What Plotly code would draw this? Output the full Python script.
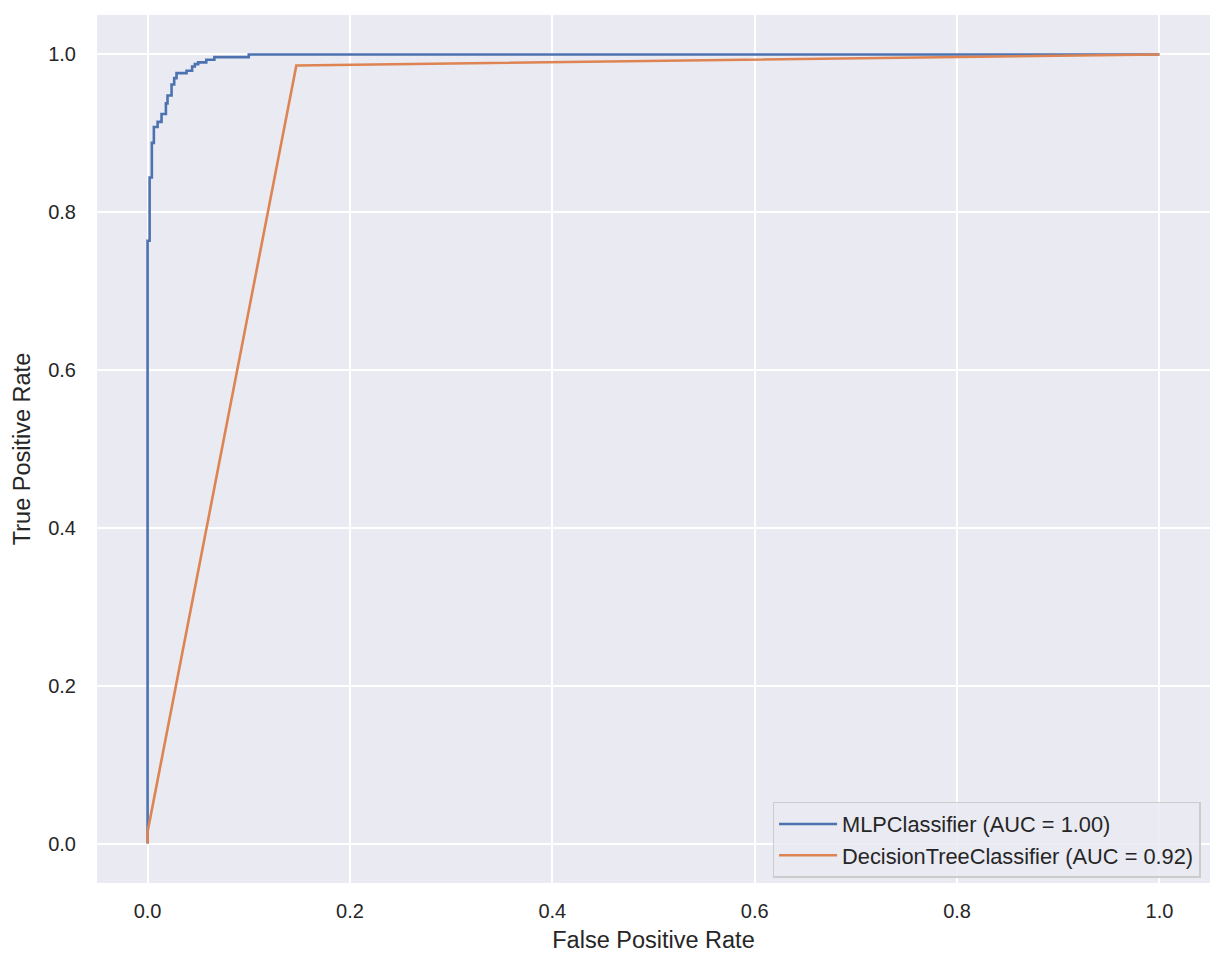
import plotly.graph_objects as go

# MLPClassifier ROC (step curve)
mlp_fpr = [0.0, 0.0, 0.002, 0.002, 0.0042, 0.0042, 0.0062, 0.0062, 0.0099, 0.0099,
           0.0138, 0.0138, 0.0181, 0.0181, 0.0197, 0.0197, 0.0237, 0.0237, 0.0263, 0.0263,
           0.0286, 0.0286, 0.0385, 0.0385, 0.044, 0.044, 0.0467, 0.0467, 0.050, 0.050,
           0.058, 0.058, 0.066, 0.066, 0.100, 0.100, 1.0]
mlp_tpr = [0.0, 0.764, 0.764, 0.844, 0.844, 0.888, 0.888, 0.908, 0.908, 0.9145,
           0.9145, 0.9246, 0.9246, 0.938, 0.938, 0.948, 0.948, 0.962, 0.962, 0.970,
           0.970, 0.9764, 0.9764, 0.9794, 0.9794, 0.9848, 0.9848, 0.9878, 0.9878, 0.990,
           0.990, 0.9933, 0.9933, 0.9966, 0.9966, 1.0, 1.0]

# DecisionTreeClassifier ROC
dt_fpr = [0.0, 0.0, 0.147, 1.0]
dt_tpr = [0.0, 0.015, 0.986, 1.0]

labels = ["MLPClassifier (AUC = 1.00)", "DecisionTreeClassifier (AUC = 0.92)"]
colors = ["#4C72B0", "#DD8452"]
ticks = [0.0, 0.2, 0.4, 0.6, 0.8, 1.0]
tick_text = ["0.0", "0.2", "0.4", "0.6", "0.8", "1.0"]

fig = go.Figure()
fig.add_trace(go.Scatter(x=mlp_fpr, y=mlp_tpr, mode="lines", name=labels[0],
                         line=dict(color=colors[0], width=2.6)))
fig.add_trace(go.Scatter(x=dt_fpr, y=dt_tpr, mode="lines", name=labels[1],
                         line=dict(color=colors[1], width=2.6)))

font_family = "Liberation Sans, Arial, sans-serif"
axis_common = dict(
    showgrid=True, gridcolor="white", gridwidth=1.8, zeroline=False,
    showline=False, ticks="", tickvals=ticks, ticktext=tick_text,
    tickfont=dict(size=20, color="#262626", family=font_family),
)
fig.update_layout(
    width=1217, height=960,
    margin=dict(l=89, r=15, t=7, b=85),
    paper_bgcolor="white", plot_bgcolor="#EAEAF2",
    font=dict(family=font_family, color="#262626"),
    xaxis=dict(range=[-0.05, 1.05], ticklabelstandoff=14,
               title=dict(text="False Positive Rate",
               font=dict(size=23.5, color="#262626"), standoff=10), **axis_common),
    yaxis=dict(range=[-0.05, 1.05], ticklabelstandoff=20,
               title=dict(text="True Positive Rate",
               font=dict(size=23.5, color="#262626"), standoff=10), **axis_common),
    legend=dict(x=0.9915, y=0.006, xanchor="right", yanchor="bottom",
                bgcolor="rgba(234,234,242,0.85)", bordercolor="#CCCCCC", borderwidth=1.5,
                font=dict(size=21.8, color="#262626"), itemwidth=58, tracegroupgap=2),
    showlegend=True,
)
fig.write_html("out.html")
